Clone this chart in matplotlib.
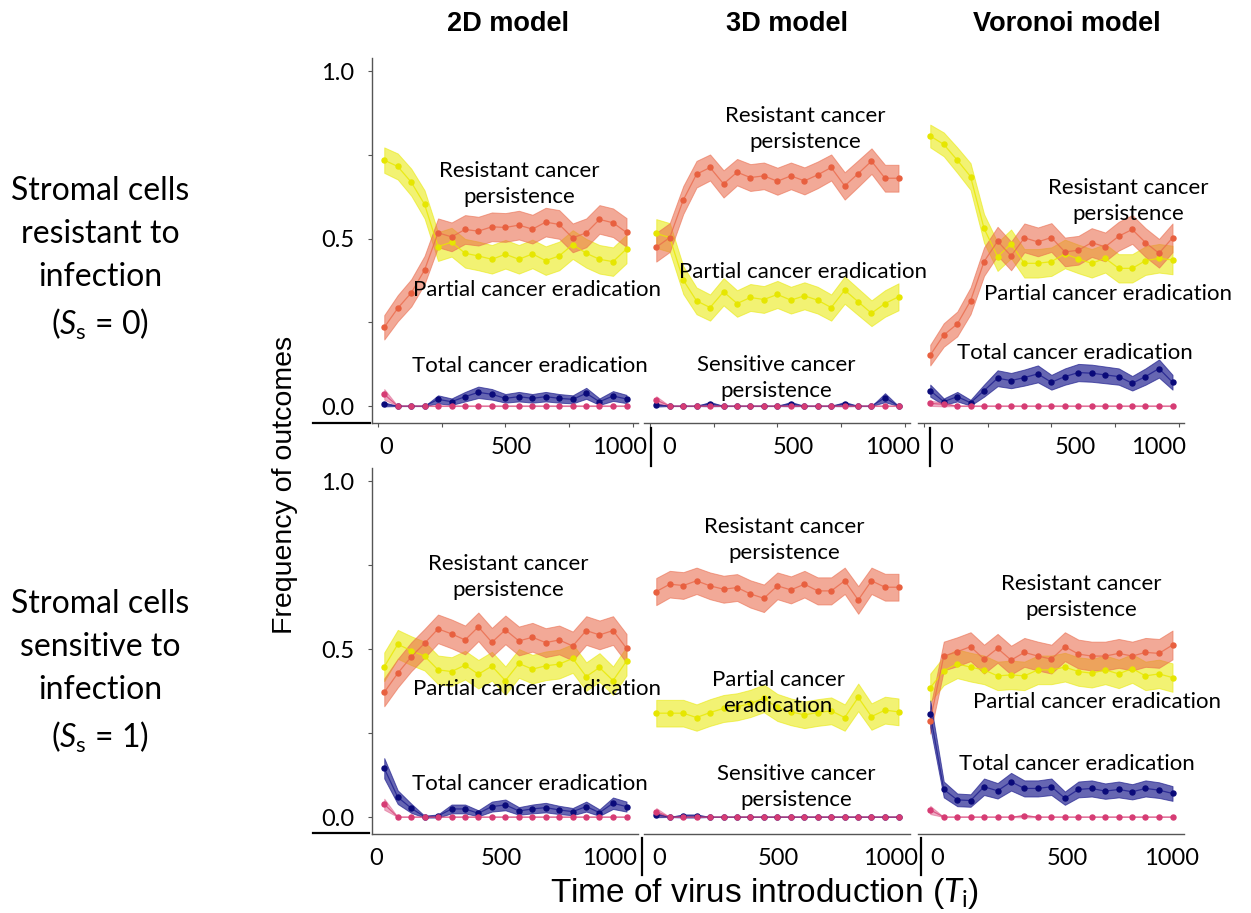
import numpy as np
import matplotlib
matplotlib.use("Agg")
import matplotlib.pyplot as plt
from matplotlib.lines import Line2D
from matplotlib.transforms import ScaledTranslation

# ---------------- data ----------------
T = [25, 78, 131, 183, 236, 289, 342, 394, 447, 500, 553, 606, 658, 711, 764, 817, 869, 922, 975]
N_RUNS = 520  # runs per point (used for binomial confidence band)

MODELS = ["2D model", "3D model", "Voronoi model"]
ROW_LABELS = ["Stromal cells\nresistant to\ninfection\n($S_{\\mathrm{s}}$ = 0)",
              "Stromal cells\nsensitive to\ninfection\n($S_{\\mathrm{s}}$ = 1)"]
YTICKS = [0.0, 0.25, 0.5, 0.75, 1.0]
YTICKLABELS = ["0.0", "", "0.5", "", "1.0"]
XTICKS = [0, 250, 500, 750, 1000]
XTICKLABELS = ["0", "", "500", "", "1000"]

# --- S_s = 0 ---
resistant_2d_s0 = [0.235, 0.292, 0.338, 0.406, 0.517, 0.505, 0.527, 0.522, 0.535, 0.533,
                   0.540, 0.528, 0.549, 0.542, 0.502, 0.517, 0.557, 0.547, 0.518]
partial_2d_s0 = [0.734, 0.715, 0.668, 0.602, 0.476, 0.489, 0.456, 0.448, 0.438, 0.453,
                 0.438, 0.454, 0.434, 0.448, 0.482, 0.456, 0.438, 0.431, 0.469]
total_2d_s0 = [0.005, 0.0, 0.0, 0.0, 0.020, 0.013, 0.028, 0.041, 0.035, 0.023,
               0.028, 0.023, 0.028, 0.023, 0.020, 0.038, 0.013, 0.030, 0.021]
sensitive_2d_s0 = [0.035, 0.0, 0.0, 0.0, 0.0, 0.0, 0.0, 0.0, 0.0, 0.0,
                   0.0, 0.0, 0.0, 0.0, 0.0, 0.0, 0.0, 0.0, 0.0]

resistant_3d_s0 = [0.474, 0.503, 0.615, 0.692, 0.712, 0.663, 0.698, 0.682, 0.687, 0.671,
                   0.687, 0.672, 0.690, 0.712, 0.657, 0.694, 0.731, 0.680, 0.680]
partial_3d_s0 = [0.515, 0.503, 0.376, 0.314, 0.294, 0.341, 0.306, 0.324, 0.318, 0.333,
                 0.316, 0.329, 0.316, 0.294, 0.346, 0.311, 0.277, 0.306, 0.326]
total_3d_s0 = [0.003, 0.0, 0.0, 0.0, 0.006, 0.0, 0.0, 0.0, 0.0, 0.0,
               0.006, 0.0, 0.0, 0.0, 0.006, 0.0, 0.0, 0.025, 0.0]
sensitive_3d_s0 = [0.018, 0.0, 0.0, 0.0, 0.0, 0.0, 0.0, 0.0, 0.0, 0.0,
                   0.0, 0.0, 0.0, 0.0, 0.0, 0.0, 0.0, 0.0, 0.0]

resistant_vor_s0 = [0.152, 0.212, 0.245, 0.314, 0.431, 0.492, 0.448, 0.502, 0.490, 0.503,
                    0.460, 0.465, 0.488, 0.475, 0.507, 0.527, 0.488, 0.456, 0.502]
partial_vor_s0 = [0.806, 0.781, 0.734, 0.685, 0.530, 0.446, 0.484, 0.426, 0.426, 0.431,
                  0.454, 0.439, 0.426, 0.441, 0.411, 0.411, 0.434, 0.441, 0.436]
total_vor_s0 = [0.046, 0.013, 0.028, 0.010, 0.046, 0.083, 0.076, 0.085, 0.096, 0.071,
                0.088, 0.100, 0.098, 0.093, 0.088, 0.068, 0.088, 0.112, 0.071]
sensitive_vor_s0 = [0.008, 0.005, 0.0, 0.0, 0.0, 0.0, 0.0, 0.0, 0.0, 0.0,
                    0.0, 0.0, 0.0, 0.0, 0.0, 0.0, 0.0, 0.0, 0.0]

# --- S_s = 1 ---
resistant_2d_s1 = [0.371, 0.428, 0.477, 0.517, 0.560, 0.545, 0.527, 0.566, 0.520, 0.557,
                   0.524, 0.535, 0.519, 0.527, 0.509, 0.555, 0.542, 0.555, 0.502]
partial_2d_s1 = [0.447, 0.514, 0.495, 0.479, 0.438, 0.433, 0.452, 0.425, 0.449, 0.406,
                 0.457, 0.440, 0.450, 0.455, 0.472, 0.418, 0.445, 0.406, 0.464]
total_2d_s1 = [0.145, 0.059, 0.026, 0.001, 0.003, 0.024, 0.024, 0.011, 0.031, 0.036,
               0.018, 0.024, 0.028, 0.021, 0.016, 0.031, 0.013, 0.041, 0.031]
sensitive_2d_s1 = [0.038, 0.0, 0.0, 0.0, 0.0, 0.0, 0.0, 0.0, 0.0, 0.0,
                   0.0, 0.0, 0.0, 0.0, 0.0, 0.0, 0.0, 0.0, 0.0]

resistant_3d_s1 = [0.671, 0.693, 0.689, 0.703, 0.688, 0.678, 0.683, 0.664, 0.651, 0.688,
                   0.676, 0.693, 0.673, 0.673, 0.703, 0.646, 0.703, 0.684, 0.684]
partial_3d_s1 = [0.309, 0.309, 0.309, 0.296, 0.311, 0.323, 0.328, 0.338, 0.353, 0.326,
                 0.313, 0.304, 0.311, 0.316, 0.296, 0.356, 0.299, 0.318, 0.313]
total_3d_s1 = [0.006, 0.0, 0.003, 0.003, 0.0, 0.0, 0.0, 0.0, 0.0, 0.0,
               0.0, 0.0, 0.0, 0.0, 0.0, 0.0, 0.0, 0.0, 0.0]
sensitive_3d_s1 = [0.016, 0.0, 0.0, 0.0, 0.0, 0.0, 0.0, 0.0, 0.0, 0.0,
                   0.0, 0.0, 0.0, 0.0, 0.0, 0.0, 0.0, 0.0, 0.0]

resistant_vor_s1 = [0.287, 0.479, 0.492, 0.507, 0.470, 0.502, 0.467, 0.490, 0.479, 0.470,
                    0.507, 0.485, 0.479, 0.479, 0.487, 0.479, 0.490, 0.487, 0.512]
partial_vor_s1 = [0.385, 0.435, 0.456, 0.446, 0.438, 0.420, 0.423, 0.420, 0.438, 0.438,
                  0.446, 0.433, 0.428, 0.438, 0.426, 0.442, 0.420, 0.426, 0.415]
total_vor_s1 = [0.307, 0.082, 0.051, 0.049, 0.090, 0.078, 0.105, 0.085, 0.085, 0.090,
                0.056, 0.082, 0.085, 0.077, 0.082, 0.075, 0.085, 0.080, 0.070]
sensitive_vor_s1 = [0.021, 0.0, 0.0, 0.0, 0.0, 0.0, 0.0, 0.003, 0.0, 0.0,
                    0.0, 0.0, 0.0, 0.0, 0.0, 0.0, 0.0, 0.0, 0.0]

PANELS = [
    [(partial_2d_s0, resistant_2d_s0, total_2d_s0, sensitive_2d_s0),
     (partial_3d_s0, resistant_3d_s0, total_3d_s0, sensitive_3d_s0),
     (partial_vor_s0, resistant_vor_s0, total_vor_s0, sensitive_vor_s0)],
    [(partial_2d_s1, resistant_2d_s1, total_2d_s1, sensitive_2d_s1),
     (partial_3d_s1, resistant_3d_s1, total_3d_s1, sensitive_3d_s1),
     (partial_vor_s1, resistant_vor_s1, total_vor_s1, sensitive_vor_s1)],
]

# ---------------- style ----------------
COLORS = ["#E8E800", "#EA6B4C", "#1E1E8E", "#D8457A"]   # partial, resistant, total, sensitive
FILL_ALPHA = [0.55, 0.58, 0.68, 0.45]
MARKER_COLORS = ["#E6E600", "#E8603F", "#0A0A7A", "#D63C74"]

W, H = 1251, 913
fig = plt.figure(figsize=(W / 100, H / 100), dpi=100)
plt.rcParams['mathtext.fontset'] = 'custom'
plt.rcParams['mathtext.it'] = 'Lato:italic'
plt.rcParams['mathtext.rm'] = 'Lato'

COL_LEFT = [372, 644, 918]
COL_W = 266
ROW_TOP = [57.6, 467.6]
ROW_H = [365.2, 366.2]
XLIM = (-23, 1020)
YLIM = (-0.05, 1.04)

# tick-label horizontal offsets (px) for labels 0, 500, 1000
LABEL_DX = [[(8, 6, -13), (19, 16, -12), (22, 24, -20)],
            [(-2, -4, -23), (9, 1, -14), (13, 16, -7)]]

ANNOT_FONT = dict(family="Lato", fontsize=16, color="black")
ANNOTS = [
    [[("Resistant cancer\npersistence", 519, 184), ("Partial cancer eradication", 537, 290),
      ("Total cancer eradication", 530, 366)],
     [("Resistant cancer\npersistence", 805, 129), ("Partial cancer eradication", 803, 272),
      ("Sensitive cancer\npersistence", 776, 378)],
     [("Resistant cancer\npersistence", 1128, 201), ("Partial cancer eradication", 1108, 294),
      ("Total cancer eradication", 1075, 353)]],
    [[("Resistant cancer\npersistence", 508, 577), ("Partial cancer eradication", 537, 689),
      ("Total cancer eradication", 530, 784)],
     [("Resistant cancer\npersistence", 784, 540), ("Partial cancer\neradication", 778, 693),
      ("Sensitive cancer\npersistence", 796, 787)],
     [("Resistant cancer\npersistence", 1081, 597), ("Partial cancer eradication", 1097, 702),
      ("Total cancer eradication", 1077, 764)]],
]

x = np.array(T)
for r in range(2):
    for c in range(3):
        ax = fig.add_axes([COL_LEFT[c] / W, 1 - (ROW_TOP[r] + ROW_H[r]) / H,
                           COL_W / W, ROW_H[r] / H])
        ax.set_xlim(*XLIM)
        ax.set_ylim(*YLIM)
        for k, series in enumerate(PANELS[r][c]):
            p = np.array(series)
            hw = 1.96 * np.sqrt(p * (1 - p) / N_RUNS)
            ax.fill_between(x, p - hw, p + hw, facecolor=COLORS[k], edgecolor=COLORS[k],
                            alpha=FILL_ALPHA[k], lw=0.7, zorder=1 + k)
            ax.plot(x, p, color=COLORS[k], lw=0.9, alpha=0.8, zorder=6 + k)
            ax.plot(x, p, ls="none", marker="o", ms=3.6, mfc=MARKER_COLORS[k],
                    mec=MARKER_COLORS[k], zorder=10 + k)
        for sp in ("top", "right"):
            ax.spines[sp].set_visible(False)
        ax.spines["bottom"].set_color("#555555")
        ax.spines["bottom"].set_linewidth(1.0)
        ax.set_xticks(XTICKS)
        ax.set_xticklabels(XTICKLABELS, family="Lato", fontsize=17)
        if r == 0:
            ax.tick_params(axis="x", direction="out", length=3, width=0.8,
                           color="#555555", pad=7)
        else:
            ax.tick_params(axis="x", length=0, pad=10)
        labs = [l for l in ax.get_xticklabels() if l.get_text()]
        for lbl, dx in zip(labs, LABEL_DX[r][c]):
            lbl.set_transform(lbl.get_transform() +
                              ScaledTranslation(dx / 100, 0, fig.dpi_scale_trans))
        if c == 0:
            ax.spines["left"].set_color("#555555")
            ax.spines["left"].set_linewidth(1.0)
            ax.set_yticks(YTICKS)
            ax.set_yticklabels(YTICKLABELS, family="Lato", fontsize=17)
            ax.tick_params(axis="y", direction="out", length=3, width=0.8,
                           color="#555555", pad=10)
        else:
            ax.spines["left"].set_visible(False)
            ax.set_yticks([])
        ax.patch.set_alpha(0)
        for txt, tx, ty in ANNOTS[r][c]:
            fig.text(tx / W, 1 - ty / H, txt, ha="center", va="center",
                     linespacing=1.35, zorder=20, **ANNOT_FONT)

# column titles
for name, cx in zip(MODELS, [508, 787, 1067]):
    fig.text(cx / W, 1 - 24 / H, name, ha="center", va="center",
             family="Liberation Sans", fontweight="bold", fontsize=19.5)

# row labels
for lab, cy in zip(ROW_LABELS, [259, 672]):
    fig.text(100 / W, 1 - cy / H, lab, ha="center", va="center",
             family="Lato", fontsize=23, linespacing=1.55)

# axis labels
fig.text(285 / W, 1 - 485 / H, "Frequency of outcomes", rotation=90, ha="center",
         va="center", family="Liberation Sans", fontsize=20.5)
fig.text(765 / W, 1 - 893 / H, "Time of virus introduction ($T_{\\mathrm{i}}$)",
         ha="center", va="center", family="Liberation Sans", fontsize=24)

# decorative separator lines
def fig_line(x0, y0, x1, y1, lw=1.6):
    fig.add_artist(Line2D([x0 / W, x1 / W], [1 - y0 / H, 1 - y1 / H],
                          transform=fig.transFigure, color="black", lw=lw))

fig_line(313, 423, 370, 423)
fig_line(313, 833, 369, 833)
for xx in (651, 930):
    fig_line(xx, 428, xx, 466)
for xx in (642, 921):
    fig_line(xx, 838, xx, 875)

fig.savefig("out.png", dpi=100)
